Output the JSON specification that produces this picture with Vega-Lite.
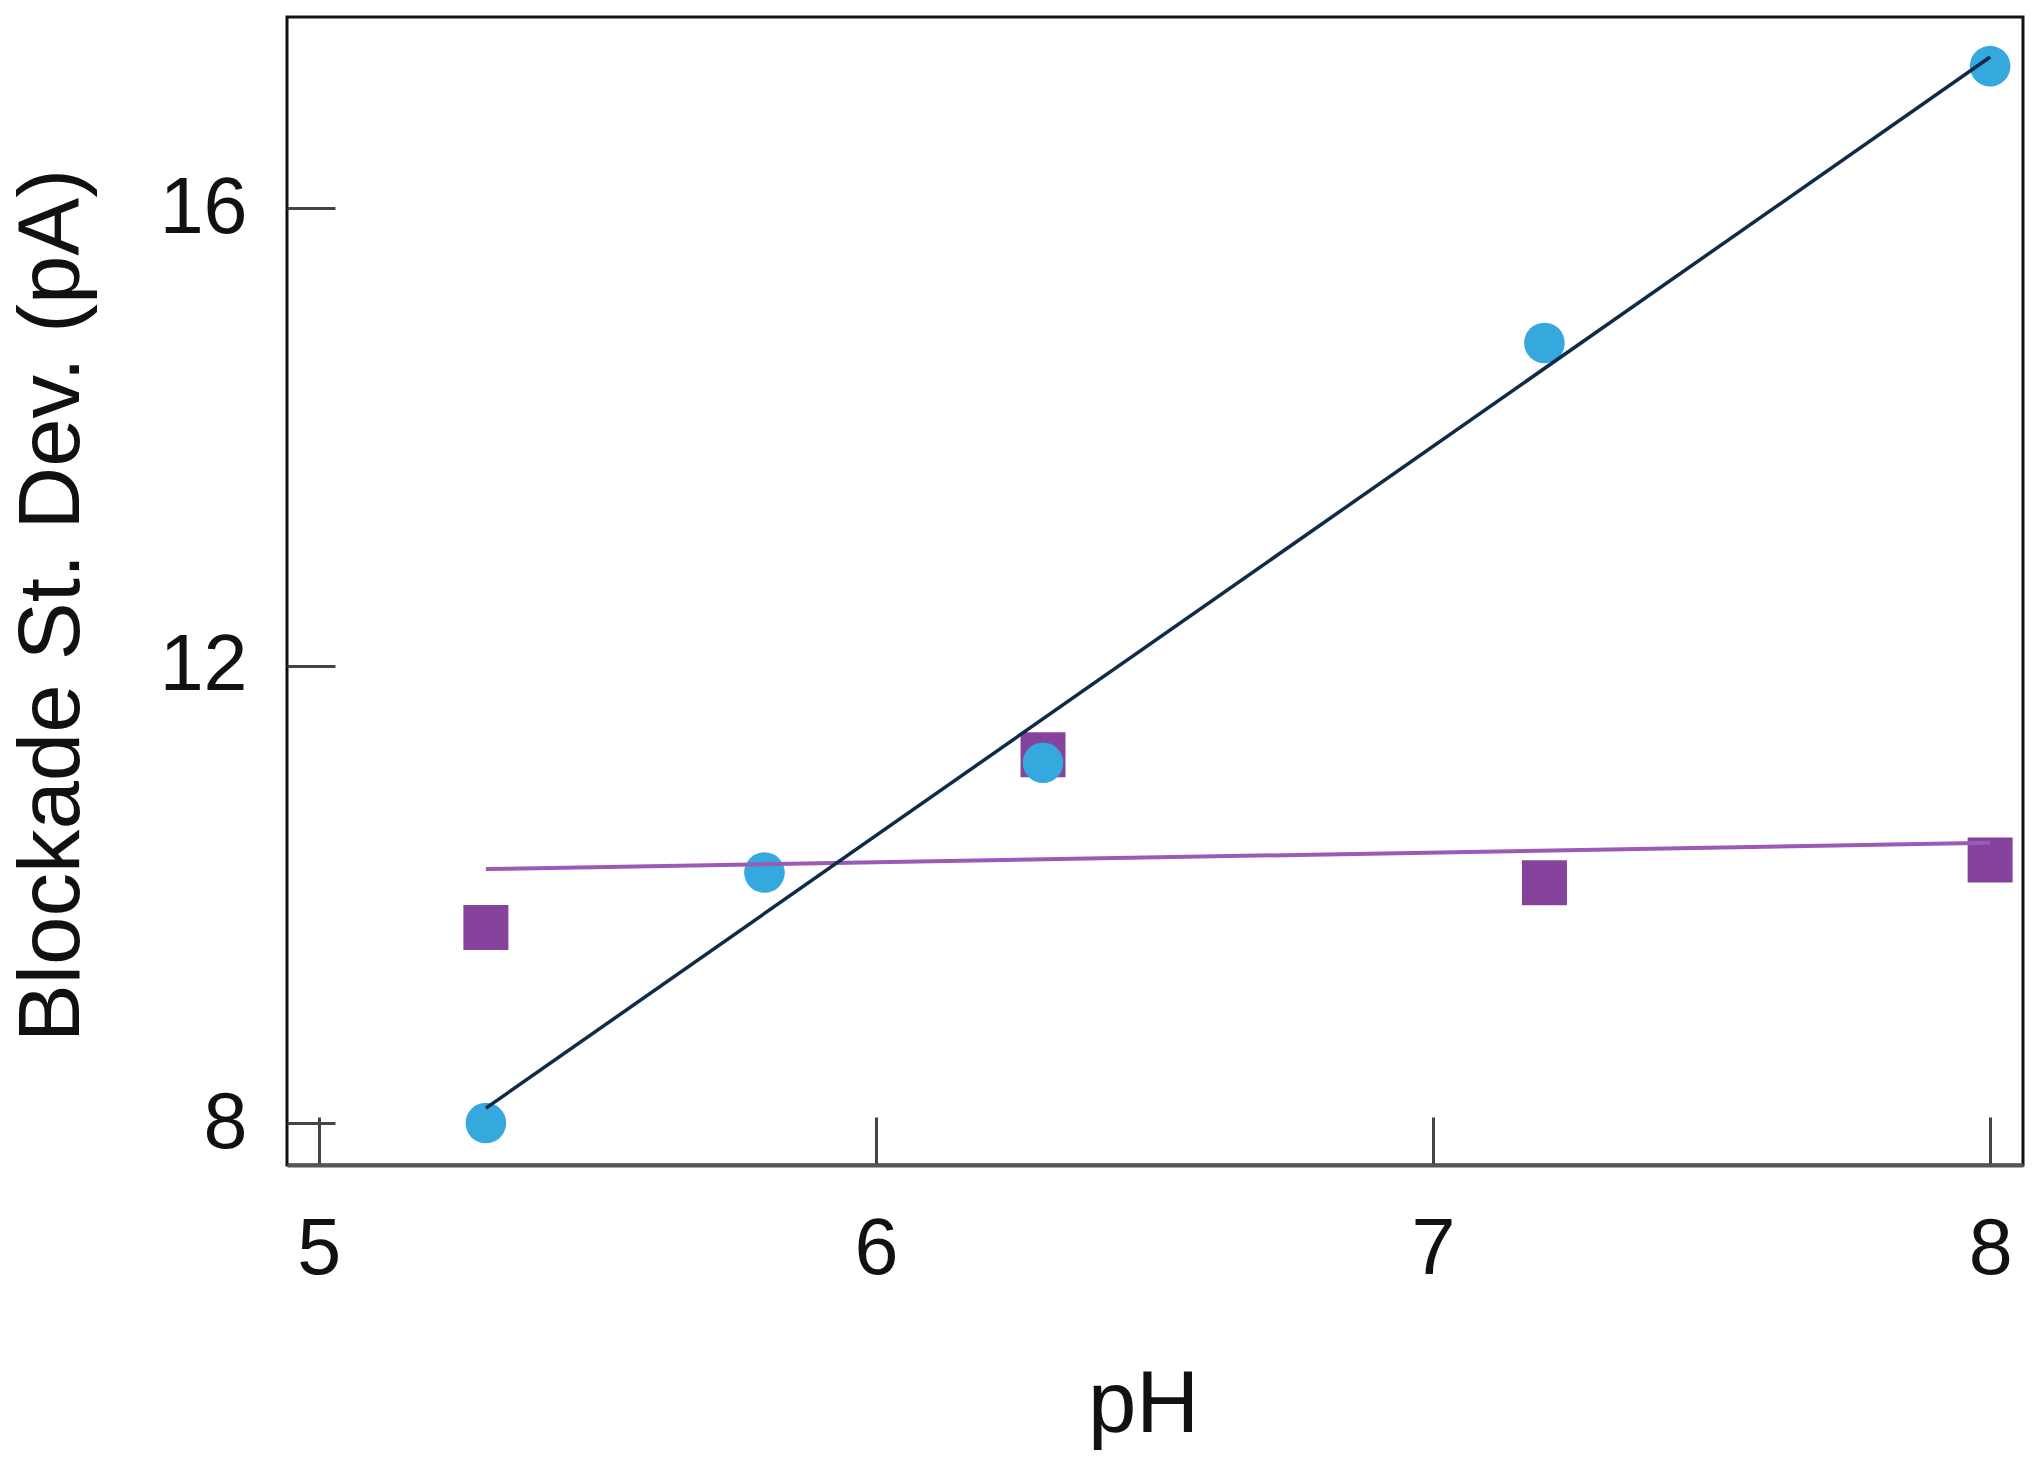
{
  "$schema": "https://vega.github.io/schema/vega-lite/v6.json",
  "width": 1736,
  "height": 1148,
  "autosize": {"type": "none"},
  "padding": {"left": 287, "top": 17, "right": 17, "bottom": 300},
  "background": "white",
  "config": {
    "view": {"stroke": "#111111", "strokeWidth": 3},
    "font": "Liberation Sans",
    "axis": {
      "grid": false,
      "labelFont": "Liberation Sans",
      "titleFont": "Liberation Sans",
      "labelFontSize": 79,
      "titleFontSize": 87,
      "titleFontWeight": "normal",
      "labelColor": "#111111",
      "titleColor": "#111111",
      "tickColor": "#444444",
      "tickWidth": 3,
      "tickSize": -48
    }
  },
  "datasets": {
    "circles": [
      {"pH": 5.3, "sd": 8.0},
      {"pH": 5.8, "sd": 10.19},
      {"pH": 6.3, "sd": 11.15},
      {"pH": 7.2, "sd": 14.82},
      {"pH": 8.0, "sd": 17.24}
    ],
    "squares": [
      {"pH": 5.3, "sd": 9.71},
      {"pH": 6.3, "sd": 11.22},
      {"pH": 7.2, "sd": 10.1},
      {"pH": 8.0, "sd": 10.3}
    ],
    "fitBlue": [
      {"pH": 5.3, "sd": 8.13},
      {"pH": 8.0, "sd": 17.32}
    ],
    "fitPurple": [
      {"pH": 5.3, "sd": 10.22},
      {"pH": 8.0, "sd": 10.45}
    ]
  },
  "encoding": {
    "x": {
      "field": "pH",
      "type": "quantitative",
      "scale": {"domain": [4.943, 8.059], "nice": false, "zero": false},
      "axis": {
        "title": "pH",
        "values": [5, 6, 7, 8],
        "format": "d",
        "domain": true,
        "domainColor": "#555555",
        "domainWidth": 4,
        "labelPadding": 156,
        "labelBaseline": "alphabetic",
        "titleX": 856,
        "titleY": 266,
        "titleBaseline": "alphabetic",
        "titleAlign": "center"
      }
    },
    "y": {
      "field": "sd",
      "type": "quantitative",
      "scale": {"domain": [7.633, 17.67], "nice": false, "zero": false},
      "axis": {
        "title": "Blockade St. Dev. (pA)",
        "values": [8, 12, 16],
        "format": "d",
        "domain": false,
        "labelPadding": 88,
        "titleAngle": 270,
        "titleX": -235,
        "titleY": 588,
        "titleAlign": "center",
        "titleBaseline": "middle"
      }
    }
  },
  "layer": [
    {
      "data": {"name": "squares"},
      "mark": {"type": "point", "shape": "square", "filled": true, "size": 2025, "color": "#86439B", "opacity": 1}
    },
    {
      "data": {"name": "circles"},
      "mark": {"type": "point", "shape": "circle", "filled": true, "size": 1650, "color": "#35A8DD", "opacity": 1}
    },
    {
      "data": {"name": "fitPurple"},
      "mark": {"type": "line", "color": "#9A5AB6", "strokeWidth": 4}
    },
    {
      "data": {"name": "fitBlue"},
      "mark": {"type": "line", "color": "#0E2B4A", "strokeWidth": 3.5}
    }
  ]
}
